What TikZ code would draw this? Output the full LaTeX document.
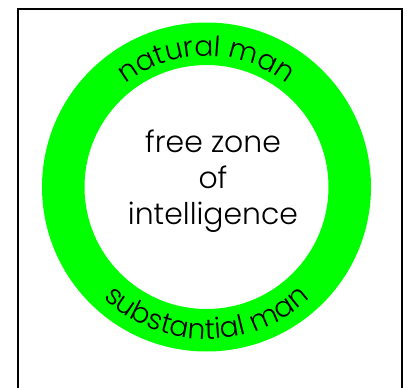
\documentclass[tikz,border=0pt]{standalone}
\usepackage{fontspec}
\setmainfont{Poppins}[UprightFont={* Light}]
\usetikzlibrary{decorations.text}

\begin{document}
\begin{tikzpicture}[x=0.02cm, y=0.02cm,
  frame/.style={line width=1.4pt, black},
  band/.style={fill=green, even odd rule},
  lbl/.style={font=\fontsize{17}{20.5}\selectfont, align=center},
  arcword/.style={decorate, decoration={text along path, text align=center, text={|\fontsize{16}{16}\selectfont|#1}}}
]
\useasboundingbox (0,0) rectangle (407,387);
\coordinate (c) at (206.5,200);
% frame, open at the bottom
\draw[frame] (18,-10) -- (18,378) -- (402,378) -- (402,-10);
% green ring
\path[band] (c) circle[radius=164.5] (c) circle[radius=122];
\node[lbl] (zone) at (213,206) {free zone\\of\\intelligence};
% ring labels
\path[arcword={natural man}] (c) ++(150:131) arc[start angle=150, end angle=30, radius=131];
\path[arcword={substantial man}] (c) ++(205:152) arc[start angle=205, end angle=335, radius=152];
\end{tikzpicture}
\end{document}
